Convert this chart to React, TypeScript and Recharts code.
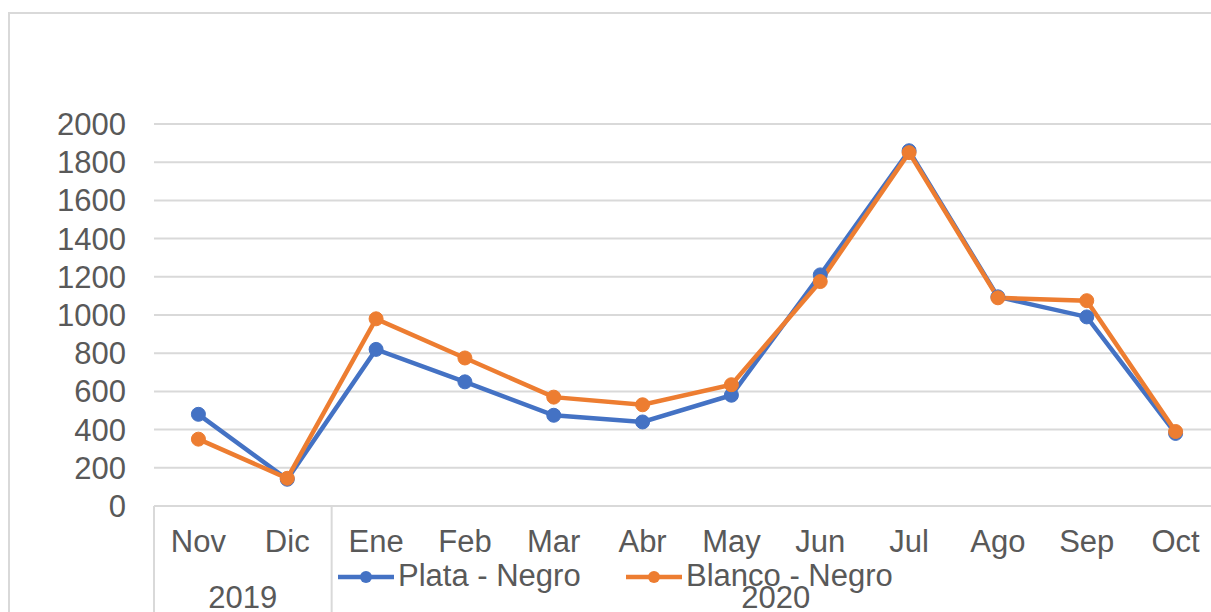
import React from 'react';
import { LineChart, Line, XAxis, YAxis, CartesianGrid, Legend } from 'recharts';

const months = ['Nov', 'Dic', 'Ene', 'Feb', 'Mar', 'Abr', 'May', 'Jun', 'Jul', 'Ago', 'Sep', 'Oct'];
const years = ['2019', '2019', '2020', '2020', '2020', '2020', '2020', '2020', '2020', '2020', '2020', '2020'];
const plataNegro = [480, 140, 820, 650, 475, 440, 580, 1210, 1860, 1095, 990, 380];
const blancoNegro = [350, 145, 980, 775, 570, 530, 635, 1175, 1850, 1090, 1075, 390];
const yTicks = [0, 200, 400, 600, 800, 1000, 1200, 1400, 1600, 1800, 2000];

const seriesNames = ['Plata - Negro', 'Blanco - Negro'];
const BLUE = '#4472C4';
const ORANGE = '#ED7D31';
const TEXT = '#595959';
const GRID = '#d9d9d9';
const FONT = '"Liberation Sans", Arial, sans-serif';

const data = months.map((m, i) => ({
  month: m,
  year: years[i],
  plata: plataNegro[i],
  blanco: blancoNegro[i],
}));

const YTick = (props: any) => {
  const { x, y, payload } = props;
  return (
    <text x={x} y={y} dy="0.355em" textAnchor="end" fill={TEXT} fontSize={31} fontFamily={FONT}>
      {payload.value}
    </text>
  );
};

const XTick = (props: any) => {
  const { x, y, payload } = props;
  const i: number = payload.index;
  const half: number = typeof payload.offset === 'number' && payload.offset > 0 ? payload.offset : 1066 / months.length / 2;
  const els: React.ReactNode[] = [];
  els.push(
    <text key="m" x={x} y={y + 46} textAnchor="middle" fill={TEXT} fontSize={31} fontFamily={FONT}>
      {payload.value}
    </text>
  );
  if (i === 0 || years[i] !== years[i - 1]) {
    let count = 0;
    for (let j = i; j < years.length && years[j] === years[i]; j++) count++;
    els.push(<line key="sl" x1={x - half} x2={x - half} y1={y} y2={y + 160} stroke={GRID} strokeWidth={2} />);
    els.push(
      <text key="y" x={x - half + count * half} y={y + 102} textAnchor="middle" fill={TEXT} fontSize={31} fontFamily={FONT}>
        {years[i]}
      </text>
    );
  }
  if (i === months.length - 1) {
    els.push(<line key="sr" x1={x + half} x2={x + half} y1={y} y2={y + 160} stroke={GRID} strokeWidth={2} />);
  }
  return <g>{els}</g>;
};

const LegendContent = () => {
  const items = [
    { name: seriesNames[0], color: BLUE, x: 338 },
    { name: seriesNames[1], color: ORANGE, x: 626 },
  ];
  return (
    <svg width={1240} height={60} style={{ display: 'block' }}>
      {items.map((it) => (
        <g key={it.name}>
          <line x1={it.x} x2={it.x + 56} y1={27} y2={27} stroke={it.color} strokeWidth={4.5} />
          <circle cx={it.x + 28} cy={27} r={6} fill={it.color} />
          <text x={it.x + 60} y={36} fill={TEXT} fontSize={31} fontFamily={FONT}>
            {it.name}
          </text>
        </g>
      ))}
    </svg>
  );
};

export default function App() {
  return (
    <div
      style={{
        position: 'absolute',
        left: 0,
        top: 0,
        width: 1211,
        height: 612,
        overflow: 'hidden',
        background: '#fff',
      }}
    >
      <div
        style={{
          position: 'absolute',
          left: 8,
          top: 12,
          width: 1400,
          height: 800,
          borderLeft: `2px solid ${GRID}`,
          borderTop: `2px solid ${GRID}`,
        }}
      />
      <div style={{ position: 'absolute', left: 0, top: 0 }}>
        <LineChart width={1240} height={640} data={data} margin={{ top: 124, right: 20, left: 0, bottom: 0 }}>
          <CartesianGrid horizontal vertical={false} stroke={GRID} strokeWidth={2} />
          <XAxis
            dataKey="month"
            scale="band"
            interval={0}
            tickLine={false}
            axisLine={false}
            tickSize={0}
            tickMargin={0}
            height={134}
            tick={<XTick />}
          />
          <YAxis
            domain={[0, 2000]}
            ticks={yTicks}
            width={154}
            tickLine={false}
            axisLine={false}
            tickSize={0}
            tickMargin={28}
            tick={<YTick />}
            interval={0}
          />
          <Legend
            layout="horizontal"
            verticalAlign="middle"
            align="center"
            content={<LegendContent />}
            wrapperStyle={{ position: 'absolute', left: 0, top: 550, width: 1240, height: 60 }}
          />
          <Line
            type="linear"
            dataKey="plata"
            name={seriesNames[0]}
            stroke={BLUE}
            strokeWidth={4.5}
            dot={{ r: 7, fill: BLUE, stroke: BLUE, strokeWidth: 1 }}
            activeDot={false}
            isAnimationActive={false}
          />
          <Line
            type="linear"
            dataKey="blanco"
            name={seriesNames[1]}
            stroke={ORANGE}
            strokeWidth={4.5}
            dot={{ r: 7, fill: ORANGE, stroke: ORANGE, strokeWidth: 1 }}
            activeDot={false}
            isAnimationActive={false}
          />
        </LineChart>
      </div>
    </div>
  );
}
